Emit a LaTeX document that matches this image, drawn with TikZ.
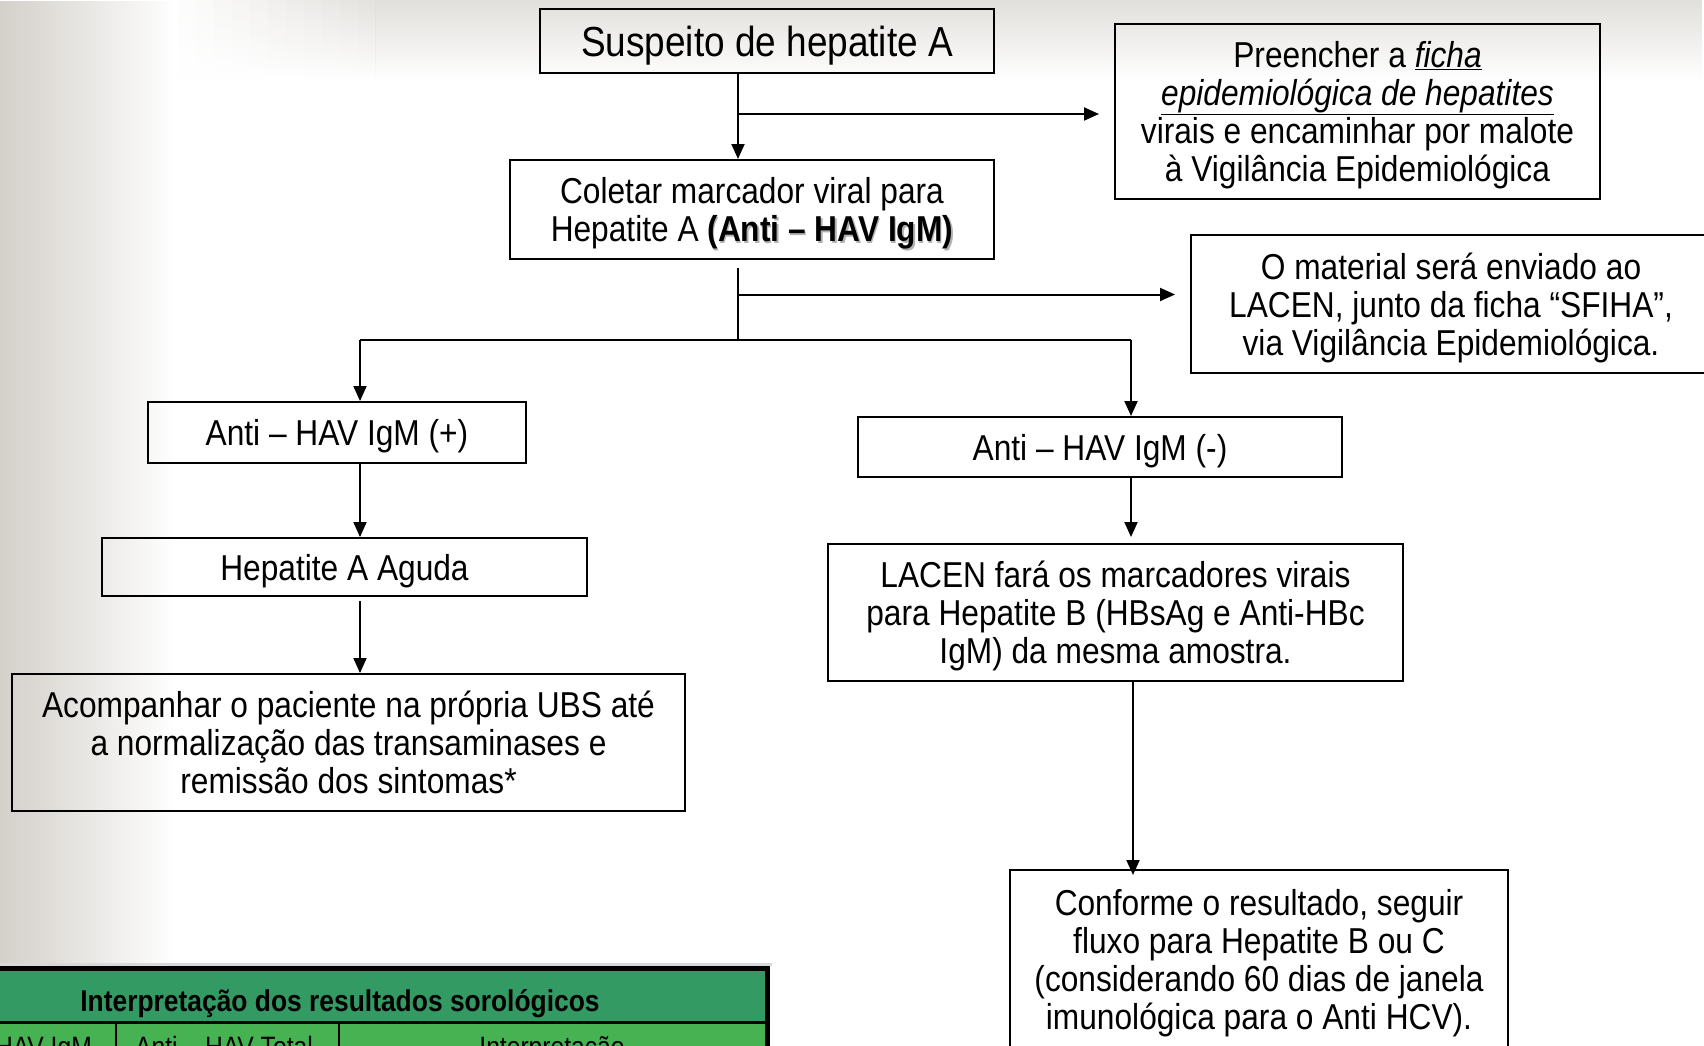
\documentclass[tikz,border=0pt]{standalone}
\usepackage{fontspec}
\setmainfont{Liberation Sans}[FakeStretch=0.88]
\usetikzlibrary{arrows.meta,fadings}

\definecolor{bgleft}{RGB}{212,208,202}
\definecolor{bgtop}{RGB}{226,224,220}
\definecolor{hdrgreen}{RGB}{52,154,100}
\definecolor{rowgreen}{RGB}{70,178,82}

\tikzfading[name=fadeeast, left color=transparent!0, right color=transparent!100]
\tikzfading[name=fadesouth, top color=transparent!0, bottom color=transparent!100]

% bold text with a soft grey drop shadow
\newcommand{\shadowtext}[1]{\leavevmode\rlap{\kern1.5pt\raisebox{-1.5pt}{\textcolor{black!30}{#1}}}#1}

\begin{document}
\begin{tikzpicture}[x=1pt,y=-1pt,
  box/.style={draw, line width=2pt, align=center, inner sep=0pt, text depth=0pt,
              font=\fontsize{36}{38}\selectfont},
  link/.style={line width=2pt},
  arr/.style={link, -{Triangle[length=15pt,width=13pt]}},
  cell/.style={font=\fontsize{28}{30}\selectfont, inner sep=0pt},
]
\useasboundingbox (0,0) rectangle (1704,1045);
\clip (0,0) rectangle (1704,1045);

% ---- background: soft grey bands on the left and along the top
\fill[white] (0,0) rectangle (1704,1045);
\fill[bgtop, path fading=fadesouth] (376,0) rectangle (1704,80);
\foreach \i in {0,...,11}
  \fill[bgtop, opacity=\i/12, path fading=fadesouth] ({160+\i*18},0) rectangle ({178+\i*18},80);
\fill[bgleft, path fading=fadeeast] (0,0) rectangle (175,1045);

% ---- boxes
\node[box, minimum width=454pt, minimum height=64pt,
      font=\fontsize{42}{44}\selectfont] (sus) at (767,41) {Suspeito de hepatite A};
\node[box, minimum width=485pt, minimum height=175pt] (pre) at (1357.5,111.5)
  {Preencher a \underline{\textit{ficha}}\\\underline{\textit{epidemiológica de hepatites}}\\virais e encaminhar por malote\\à Vigilância Epidemiológica};
\node[box, minimum width=484pt, minimum height=99pt] (col) at (752,209.5)
  {Coletar marcador viral para\\Hepatite A \shadowtext{\textbf{(Anti – HAV IgM)}}};
\node[box, minimum width=520pt, minimum height=138pt] (mat) at (1451,304)
  {O material será enviado ao\\LACEN, junto da ficha “SFIHA”,\\via Vigilância Epidemiológica.};
\node[box, minimum width=378pt, minimum height=61pt] (pos) at (337,432.5) {Anti – HAV IgM (+)};
\node[box, minimum width=485pt, minimum height=58pt] (hep) at (344.5,567) {Hepatite A Aguda};
\node[box, minimum width=673pt, minimum height=137pt] (aco) at (348.5,742.5)
  {Acompanhar o paciente na própria UBS até\\a normalização das transaminases e\\remissão dos sintomas*};
\node[box, minimum width=484pt, minimum height=60pt] (neg) at (1100,447) {Anti – HAV IgM (-)};
\node[box, minimum width=575pt, minimum height=137pt] (lac) at (1115.5,612.5)
  {LACEN fará os marcadores virais\\para Hepatite B (HBsAg e Anti-HBc\\IgM) da mesma amostra.};
\node[box, minimum width=498pt, minimum height=178pt] (con) at (1259,959)
  {Conforme o resultado, seguir\\fluxo para Hepatite B ou C\\(considerando 60 dias de janela\\imunológica para o Anti HCV).};

% ---- junction points
\coordinate (j1) at (738,114);
\coordinate (j2) at (738,294.5);
\coordinate (j3) at (738,340);
\coordinate (jl) at (360,340);
\coordinate (jr) at (1131,340);
\coordinate (jc) at (1133,0);

% ---- connectors
\draw[arr] (sus.south -| j1) -- (col.north -| j1);
\draw[arr, shorten >=15pt] (j1) -- (pre.west |- j1);
\draw[link] ([yshift=-8pt]col.south -| j2) -- (j3);
\draw[arr, shorten >=15pt] (j2) -- (mat.west |- j2);
\draw[link] (jl) -- (jr);
\draw[arr] (jl) -- (pos.north -| jl);
\draw[arr] (jr) -- (neg.north -| jr);
\draw[arr] (pos.south -| jl) -- (hep.north -| jl);
\draw[arr] ([yshift=-4pt]hep.south -| jl) -- (aco.north -| jl);
\draw[arr, shorten >=6pt] (neg.south -| jr) -- (lac.north -| jr);
\draw[arr, shorten >=-6pt] (lac.south -| jc) -- (con.north -| jc);

% ---- results table (lower left)
\fill[black!15] (-10,963) rectangle (772,966);
\fill[black] (-10,966) rectangle (770,1050);
\fill[hdrgreen] (-10,971) rectangle (765,1021);
\fill[rowgreen] (-10,1024) rectangle (765,1050);
\fill[black] (115,1024) rectangle (117,1050);
\fill[black] (338,1024) rectangle (340,1050);
\node[font=\bfseries\fontsize{30}{32}\selectfont, inner sep=0pt, anchor=base] (thdr) at (340,1011)
  {Interpretação dos resultados sorológicos};
\node[cell, anchor=base east] (tc1) at (92,1056) {Anti – HAV IgM};
\node[cell, anchor=base] (tc2) at (224,1056) {Anti – HAV Total};
\node[cell, anchor=base] (tc3) at (552,1056) {Interpretação};
\end{tikzpicture}
\end{document}
